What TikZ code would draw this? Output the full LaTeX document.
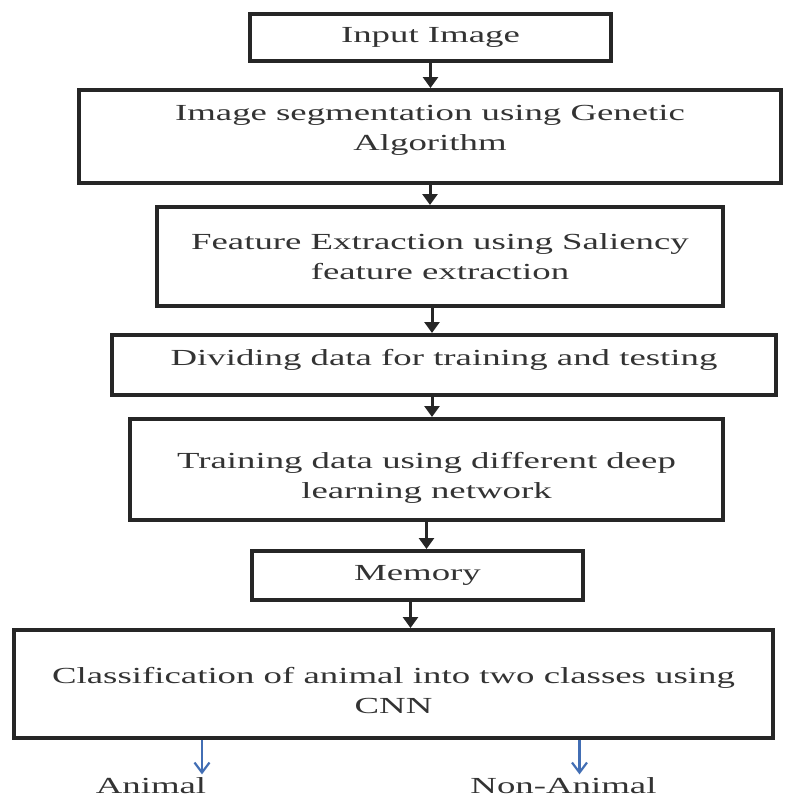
\documentclass[tikz,border=0pt]{standalone}
\usepackage{fontspec}
\setmainfont[FakeStretch=1.6]{Liberation Serif}
\usepackage{tikz}
\usetikzlibrary{positioning, arrows.meta}
\definecolor{outblue}{RGB}{66,110,180}

\begin{document}
\begin{tikzpicture}
		[x=1pt, y=-1pt,
		 box/.style = {draw=black!85, line width=4pt, rectangle, align=center, font=\fontsize{23}{30}\selectfont, text=black!80},
		 lbl/.style = {font=\fontsize{23}{30}\selectfont, text=black!80},
		 flow/.style = {-{Triangle[width=15pt,length=11pt]}, line width=3pt, draw=black!85},
		 res/.style = {-{Straight Barb[width=15pt,length=10pt]}, line width=2.2pt, draw=outblue}]
		\useasboundingbox (0,0) rectangle (787,801);
		\node[box, minimum width=361pt, minimum height=47pt] (input) at (430.5,37.5) {Input Image};
		\node[box, minimum width=702pt, minimum height=93pt, text depth=17pt] (seg) at (430,136.5) {Image segmentation using Genetic\\Algorithm};
		\node[box, minimum width=566pt, minimum height=99pt] (feat) at (440,256.5) {Feature Extraction using Saliency\\feature extraction};
		\node[box, minimum width=664pt, minimum height=60pt, text depth=15pt] (divide) at (444,365) {Dividing data for training and testing};
		\node[box, minimum width=593pt, minimum height=101pt, text height=62pt] (train) at (426.5,469.5) {Training data using different deep\\learning network};
		\node[box, minimum width=331pt, minimum height=49pt] (mem) at (417.5,575.5) {Memory};
		\node[box, minimum width=759pt, minimum height=108pt, text height=60pt] (class) at (393.5,684) {Classification of animal into two classes using\\CNN};
		\node[lbl] (animal) at (151,786) {Animal};
		\node[lbl] (nonanimal) at (563.5,786) {Non-Animal};

		\draw[flow] (input.south) -- (input.south |- seg.north);
		\draw[flow] (seg.south) -- (seg.south |- feat.north);
		\draw[flow] ([xshift=-8pt]feat.south) -- ([xshift=-8pt]feat.south |- divide.north);
		\draw[flow] ([xshift=-12pt]divide.south) -- ([xshift=-12pt]divide.south |- train.north);
		\draw[flow] (train.south) -- (train.south |- mem.north);
		\draw[flow] ([xshift=-7pt]mem.south) -- ([xshift=-7pt]mem.south |- class.north);
		\draw[res] ([xshift=51pt]animal.north |- class.south) -- ([xshift=51pt]animal.north);
		\draw[res] ([xshift=16pt]nonanimal.north |- class.south) -- ([xshift=16pt]nonanimal.north);
	\end{tikzpicture}
\end{document}
